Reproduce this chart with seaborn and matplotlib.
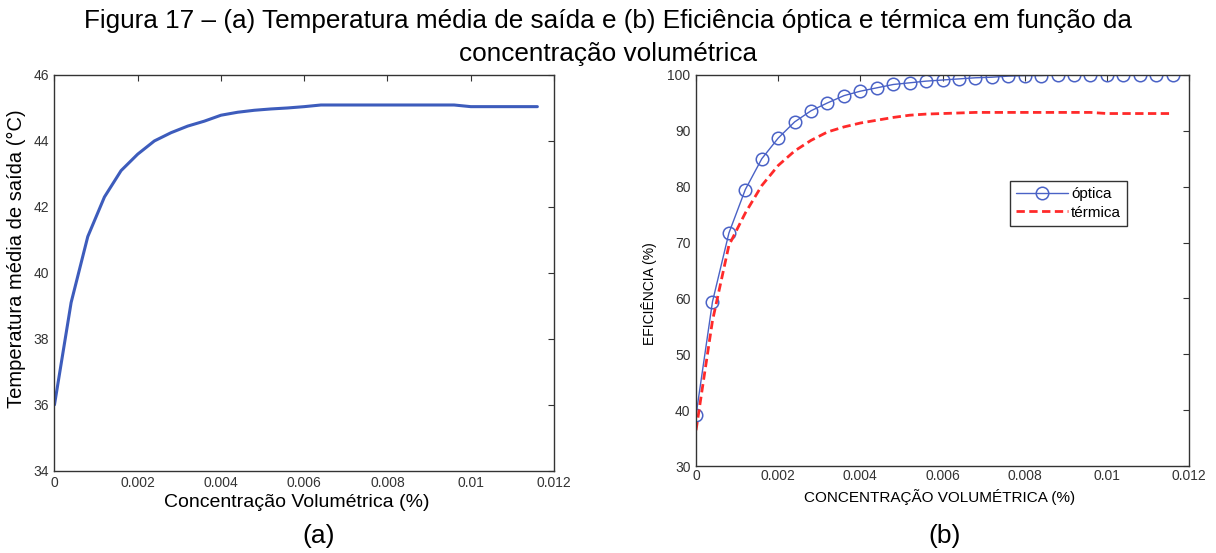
import numpy as np
import pandas as pd
import seaborn as sns
import matplotlib.pyplot as plt

# concentracao volumetrica (%), passo de 0.0004
conc = [0.0, 0.0004, 0.0008, 0.0012, 0.0016, 0.0020, 0.0024, 0.0028, 0.0032, 0.0036,
        0.0040, 0.0044, 0.0048, 0.0052, 0.0056, 0.0060, 0.0064, 0.0068, 0.0072, 0.0076,
        0.0080, 0.0084, 0.0088, 0.0092, 0.0096, 0.0100, 0.0104, 0.0108, 0.0112, 0.0116]

# (a) temperatura media de saida (C)
temp_saida = [36.0, 39.1, 41.1, 42.3, 43.1, 43.6, 44.0, 44.25, 44.45, 44.6,
              44.78, 44.87, 44.93, 44.97, 45.0, 45.04, 45.09, 45.09, 45.09, 45.09,
              45.09, 45.09, 45.09, 45.09, 45.09, 45.04, 45.04, 45.04, 45.04, 45.04]

# (b) eficiencias (%)
ef_optica = [39.1, 59.4, 71.7, 79.5, 85.0, 88.7, 91.6, 93.6, 95.0, 96.3,
             97.1, 97.7, 98.3, 98.6, 98.9, 99.1, 99.3, 99.5, 99.6, 99.8,
             99.9, 99.9, 100.0, 100.0, 100.0, 100.0, 100.0, 100.0, 100.0, 100.0]
ef_termica = [36.4, 56.0, 69.5, 75.3, 80.2, 83.8, 86.4, 88.3, 89.8, 90.7,
              91.4, 91.9, 92.4, 92.8, 93.0, 93.1, 93.2, 93.3, 93.3, 93.3,
              93.3, 93.3, 93.3, 93.3, 93.3, 93.1, 93.1, 93.1, 93.1, 93.1]

xticks = [0, 0.002, 0.004, 0.006, 0.008, 0.01, 0.012]
xtick_labels = ['0', '0.002', '0.004', '0.006', '0.008', '0.01', '0.012']

df_a = pd.DataFrame({'conc': conc, 'temp': temp_saida})
df_b = pd.DataFrame({'conc': conc, 'optica': ef_optica, 'termica': ef_termica})

sns.set_style('white')
plt.rcParams['font.family'] = ['Liberation Sans', 'DejaVu Sans']

fig = plt.figure(figsize=(12.16, 5.53), dpi=100)
ax1 = fig.add_axes([0.0448, 0.1488, 0.4108, 0.7156])
ax2 = fig.add_axes([0.5724, 0.1573, 0.4054, 0.7071])

sns.lineplot(data=df_a, x='conc', y='temp', ax=ax1, color='#3d5cbc', linewidth=2.2)
sns.lineplot(data=df_b, x='conc', y='optica', ax=ax2, color='#4a62c6', linewidth=1.0,
             marker='o', markersize=9, markerfacecolor='none', markeredgecolor='#4a62c6',
             markeredgewidth=1.1, label='óptica')
sns.lineplot(data=df_b, x='conc', y='termica', ax=ax2, color='#ff2a2a', linewidth=2.0,
             linestyle='--', label='térmica')
ax2.lines[-1].set_dashes((3, 1.6))

ax1.set_xlim(0, 0.012)
ax1.set_ylim(34, 46)
ax1.set_xticks(xticks)
ax1.set_xticklabels(xtick_labels)
ax1.set_yticks(range(34, 47, 2))
ax1.set_xlabel('Concentração Volumétrica (%)', fontsize=14, color='black')
ax1.set_ylabel('Temperatura média de saída (°C)', fontsize=14.5, color='black')
ax1.xaxis.set_label_coords(0.485, -0.058)
ax1.yaxis.set_label_coords(-0.057, 0.537)

ax2.set_xlim(0, 0.012)
ax2.set_ylim(30, 100)
ax2.set_xticks(xticks)
ax2.set_xticklabels(xtick_labels)
ax2.set_yticks(range(30, 101, 10))
ax2.set_xlabel('CONCENTRAÇÃO VOLUMÉTRICA (%)', fontsize=11, color='black')
ax2.set_ylabel('EFICIÊNCIA (%)', fontsize=10, color='black')
ax2.xaxis.set_label_coords(0.495, -0.058)
ax2.yaxis.set_label_coords(-0.079, 0.442)

for ax in (ax1, ax2):
    for s in ax.spines.values():
        s.set_color('#333333')
        s.set_linewidth(1.0)
    ax.tick_params(direction='in', length=4, width=0.8, color='#333333',
                   top=True, right=True, labelsize=10, labelcolor='#333333', pad=4)
ax2.tick_params(axis='x', pad=2)

leg = ax2.legend(loc='lower left', bbox_to_anchor=(0.637, 0.614), fontsize=11,
                 frameon=True, fancybox=False, handlelength=3.4, borderpad=0.4,
                 labelspacing=0.3, handletextpad=0.2, borderaxespad=0)
leg.get_frame().set_edgecolor('black')
leg.get_frame().set_linewidth(1.0)
for t in leg.get_texts():
    t.set_color('black')

fig.text(0.5, 0.962, 'Figura 17 – (a) Temperatura média de saída e (b) Eficiência óptica e térmica em função da',
         ha='center', va='center', fontsize=18.8, color='black')
fig.text(0.5, 0.902, 'concentração volumétrica', ha='center', va='center', fontsize=18.8, color='black')
fig.text(0.262, 0.03, '(a)', ha='center', va='center', fontsize=19, color='black')
fig.text(0.777, 0.03, '(b)', ha='center', va='center', fontsize=19, color='black')

fig.savefig('out.png', dpi=100)
